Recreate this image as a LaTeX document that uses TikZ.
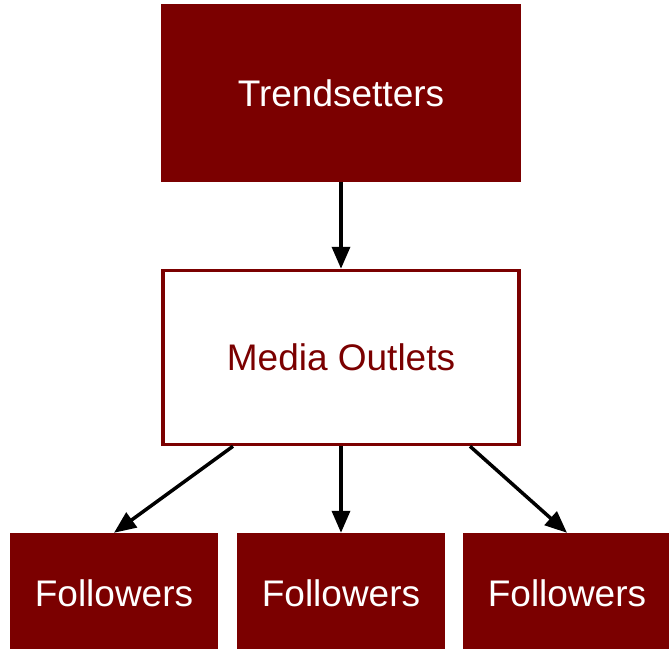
\documentclass[tikz,border=0pt]{standalone}
\usepackage{fontspec}
\setmainfont{Liberation Sans}
\usetikzlibrary{arrows.meta}
\definecolor{maroon}{RGB}{123,0,0}
\begin{document}
\begin{tikzpicture}[x=1pt,y=-1pt,
  filledbox/.style={draw=none,fill=maroon,text=white,font=\fontsize{37}{40}\selectfont,inner sep=0pt},
  outlinebox/.style={draw=maroon,line width=3.5pt,fill=white,text=maroon,font=\fontsize{37}{40}\selectfont,inner sep=0pt},
  conn/.style={line width=3.5pt,-{Triangle[length=22pt,width=18pt]}}]
\useasboundingbox (0,0) rectangle (669,648);
\clip (0,0) rectangle (669,648);
\node[filledbox,minimum width=360pt,minimum height=178pt] (t) at (341,93) {Trendsetters};
\node[outlinebox,minimum width=356pt,minimum height=174pt] (m) at (341,357.5) {Media Outlets};
\node[filledbox,minimum width=208pt,minimum height=120pt] (f1) at (114,593) {Followers};
\node[filledbox,minimum width=208pt,minimum height=120pt] (f2) at (341,593) {Followers};
\node[filledbox,minimum width=208pt,minimum height=120pt] (f3) at (567,593) {Followers};
\draw[conn] (t.south) -- (m.north);
\draw[conn] ([xshift=-108pt]m.south) -- (f1.north);
\draw[conn] (m.south) -- (f2.north);
\draw[conn] ([xshift=129pt]m.south) -- (f3.north);
\end{tikzpicture}
\end{document}
